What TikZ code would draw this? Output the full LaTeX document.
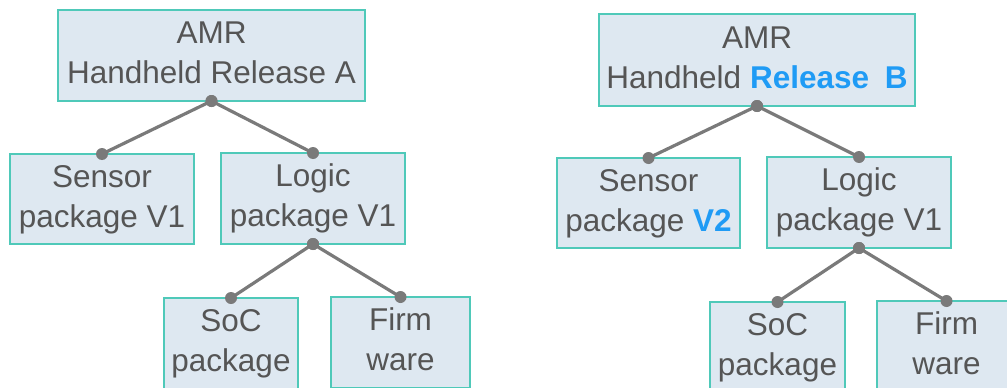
\documentclass[tikz,border=0pt]{standalone}
\usepackage{fontspec}
\setmainfont{Liberation Sans}
\definecolor{boxfill}{HTML}{DEE8F1}
\definecolor{boxline}{HTML}{4FC9B9}
\definecolor{txt}{HTML}{555555}
\definecolor{wire}{HTML}{7A7A7A}
\definecolor{hl}{HTML}{1F9BF5}
\tikzset{
  box/.style={draw=boxline, line width=1.8pt, fill=boxfill, rectangle,
    inner sep=0pt, outer sep=0pt, align=center, text=txt,
    font=\fontsize{31.5}{40}\selectfont},
  link/.style={draw=wire, line width=3.2pt},
  dot/.style={fill=wire}
}
\newcommand{\hlt}[1]{{\bfseries\color{hl}#1}}
\begin{document}
\begin{tikzpicture}[x=1pt,y=-1pt]
  \useasboundingbox (0,0) rectangle (1007,388);
  \clip (0,0) rectangle (1007,388);

  % Release A
  \node[box, minimum width=307, minimum height=91] (A) at (211.5,55.5)
    {\strut AMR\\\strut Handheld Release A};
  \node[box, minimum width=184, minimum height=90] (SA) at (102,199)
    {\strut Sensor\\\strut package V1};
  \node[box, minimum width=184, minimum height=91] (LA) at (313,198.5)
    {\strut Logic\\\strut package V1};
  \node[box, minimum width=134, minimum height=91] (CA) at (231,343.5)
    {\strut SoC\\\strut package};
  \node[box, minimum width=139, minimum height=91] (FA) at (400.5,342.5)
    {\strut Firm\\\strut ware};

  % Release B
  \node[box, minimum width=316, minimum height=92] (B) at (757,60)
    {\strut AMR\\\strut Handheld \hlt{Release\hspace{0.5em}B}};
  \node[box, minimum width=183, minimum height=90] (SB) at (648.5,203)
    {\strut Sensor\\\strut package \hlt{V2}};
  \node[box, minimum width=184, minimum height=91] (LB) at (859,202.5)
    {\strut Logic\\\strut package V1};
  \node[box, minimum width=135, minimum height=91] (CB) at (777.5,347.5)
    {\strut SoC\\\strut package};
  \node[box, minimum width=139, minimum height=91] (FB) at (946.5,346.5)
    {\strut Firm\\\strut ware};

  % connectors
  \foreach \p/\c in {A/SA, A/LA, LA/CA, LA/FA, B/SB, B/LB, LB/CB, LB/FB}{
    \draw[link] (\p.south) -- (\c.north);
    \fill[dot] (\p.south) circle[radius=6];
    \fill[dot] (\c.north) circle[radius=6];
  }
\end{tikzpicture}
\end{document}
